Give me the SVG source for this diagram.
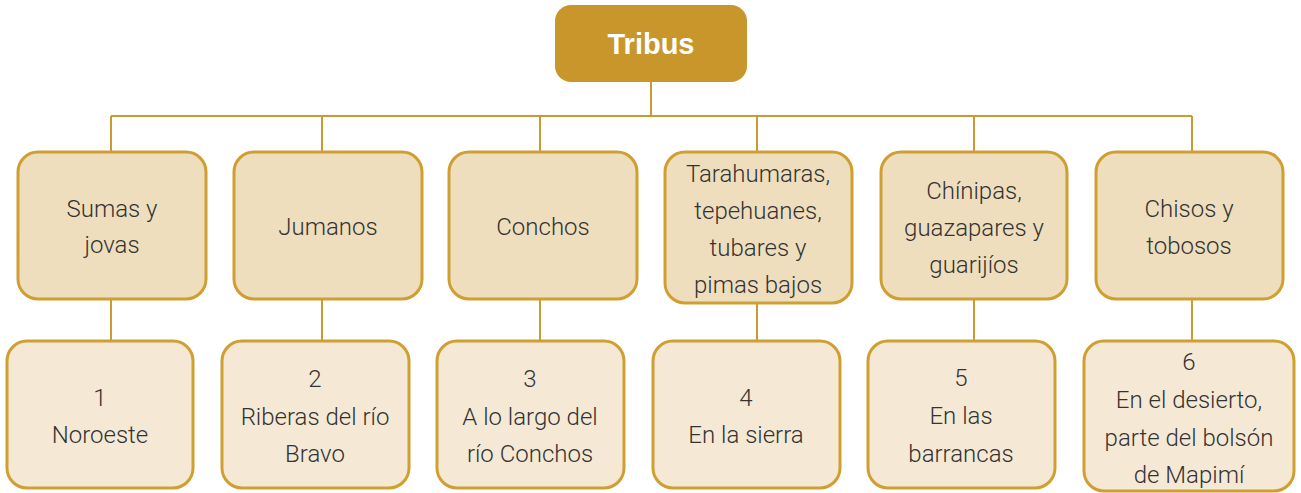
<svg xmlns="http://www.w3.org/2000/svg" width="1301" height="493" viewBox="0 0 1301 493">
<style>
.l1{fill:#EFDEBD;stroke:#D09F32;stroke-width:3}
.l2{fill:#F5E9D5;stroke:#D09F32;stroke-width:3}
.t{font-family:Roboto,"Liberation Sans",sans-serif;font-weight:300;font-size:24px;fill:#333;text-anchor:middle}
.c{stroke:#CC9A33;stroke-width:2;fill:none}
</style>
<rect width="1301" height="493" fill="#fff"/>
<g id="connectors" class="c">
<path d="M651 82V116M111 116H1192"/>
<path d="M111 116V152M322 116V152M540 116V152M757 116V152M974 116V152M1192 116V152"/>
<path d="M111 299V341M322 299V341M540 299V341M757 303V341M974 299V341M1192 299V341"/>
</g>
<g id="tribus">
<rect x="555" y="5" width="192" height="77" rx="16" fill="#C9962B"/>
<text x="651" y="54" font-family="'Liberation Sans',Arial,sans-serif" font-weight="bold" font-size="29" fill="#fff" text-anchor="middle">Tribus</text>
</g>
<g id="n1">
<rect class="l1" x="18" y="152" width="188" height="147" rx="20"/>
<text class="t" x="112" y="217">Sumas y</text>
<text class="t" x="112" y="253">jovas</text>
</g>
<g id="n2">
<rect class="l1" x="234" y="152" width="188" height="147" rx="20"/>
<text class="t" x="328" y="235">Jumanos</text>
</g>
<g id="n3">
<rect class="l1" x="449" y="152" width="188" height="147" rx="20"/>
<text class="t" x="543" y="235">Conchos</text>
</g>
<g id="n4">
<rect class="l1" x="665" y="152" width="187" height="151" rx="20"/>
<text class="t" x="758" y="182">Tarahumaras,</text>
<text class="t" x="758" y="219">tepehuanes,</text>
<text class="t" x="758" y="256">tubares y</text>
<text class="t" x="758" y="293">pimas bajos</text>
</g>
<g id="n5">
<rect class="l1" x="881" y="152" width="186" height="147" rx="20"/>
<text class="t" x="974" y="199">Chínipas,</text>
<text class="t" x="974" y="236">guazapares y</text>
<text class="t" x="974" y="273">guarijíos</text>
</g>
<g id="n6">
<rect class="l1" x="1096" y="152" width="187" height="147" rx="20"/>
<text class="t" x="1189" y="217">Chisos y</text>
<text class="t" x="1189" y="254">tobosos</text>
</g>
<g id="m1">
<rect class="l2" x="7" y="341" width="186" height="147" rx="20"/>
<text class="t" x="100" y="406">1</text>
<text class="t" x="100" y="443">Noroeste</text>
</g>
<g id="m2">
<rect class="l2" x="222" y="341" width="187" height="147" rx="20"/>
<text class="t" x="315" y="387">2</text>
<text class="t" x="315" y="425">Riberas del río</text>
<text class="t" x="315" y="462">Bravo</text>
</g>
<g id="m3">
<rect class="l2" x="437" y="341" width="187" height="147" rx="20"/>
<text class="t" x="530" y="387">3</text>
<text class="t" x="530" y="425">A lo largo del</text>
<text class="t" x="530" y="462">río Conchos</text>
</g>
<g id="m4">
<rect class="l2" x="653" y="341" width="187" height="147" rx="20"/>
<text class="t" x="746" y="406">4</text>
<text class="t" x="746" y="443">En la sierra</text>
</g>
<g id="m5">
<rect class="l2" x="868" y="341" width="187" height="147" rx="20"/>
<text class="t" x="961" y="386">5</text>
<text class="t" x="961" y="424">En las</text>
<text class="t" x="961" y="462">barrancas</text>
</g>
<g id="m6">
<rect class="l2" x="1084" y="341" width="210" height="150" rx="20"/>
<text class="t" x="1189" y="370">6</text>
<text class="t" x="1189" y="408">En el desierto,</text>
<text class="t" x="1189" y="446">parte del bolsón</text>
<text class="t" x="1189" y="483">de Mapimí</text>
</g>
</svg>
